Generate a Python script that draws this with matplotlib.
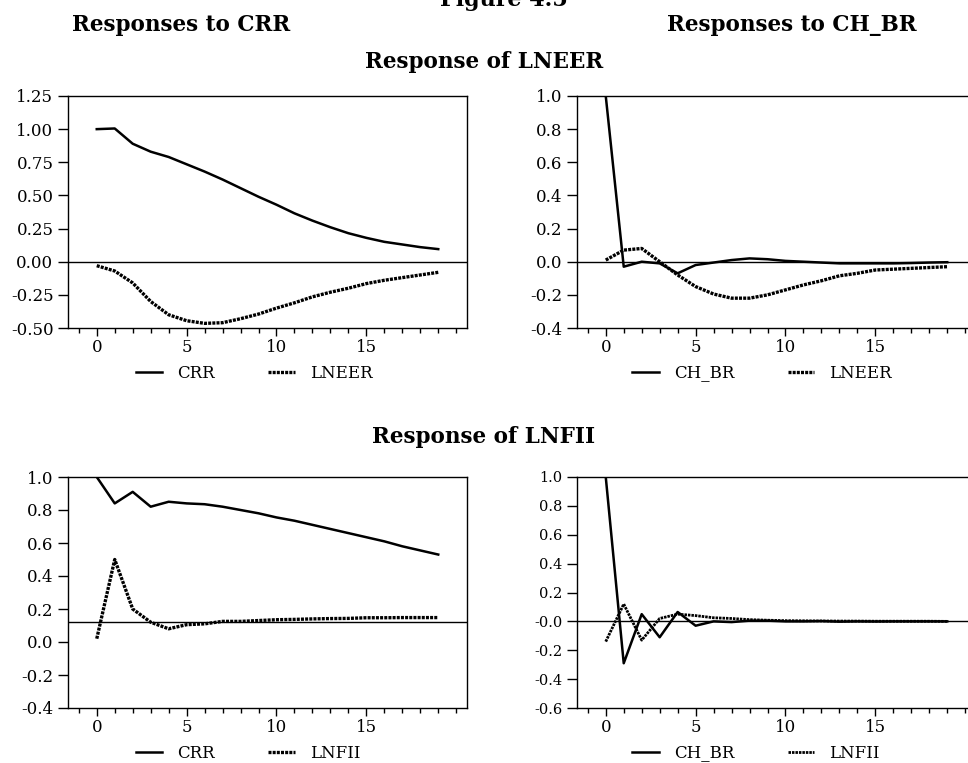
import numpy as np
import matplotlib
matplotlib.use("Agg")
import matplotlib.pyplot as plt
from matplotlib.ticker import MultipleLocator, FixedLocator, FixedFormatter

plt.rcParams["font.family"] = ["DejaVu Serif"]

periods = np.arange(20)

# Response of LNEER to CRR / CH_BR shocks
crr_crr = [1.00, 1.005, 0.89, 0.83, 0.79, 0.735, 0.68, 0.62, 0.555, 0.49,
           0.43, 0.365, 0.31, 0.26, 0.215, 0.18, 0.15, 0.13, 0.11, 0.095]
crr_lneer = [-0.03, -0.07, -0.16, -0.30, -0.40, -0.445, -0.465, -0.46, -0.43, -0.395,
             -0.35, -0.31, -0.265, -0.23, -0.20, -0.165, -0.14, -0.12, -0.10, -0.08]
chbr_chbr = [1.00, -0.03, 0.0, -0.01, -0.07, -0.02, -0.005, 0.01, 0.02, 0.015,
             0.005, 0.0, -0.005, -0.01, -0.01, -0.01, -0.01, -0.008, -0.005, -0.003]
chbr_lneer = [0.01, 0.07, 0.08, 0.0, -0.08, -0.15, -0.195, -0.22, -0.22, -0.20,
              -0.17, -0.14, -0.115, -0.085, -0.07, -0.05, -0.045, -0.04, -0.035, -0.03]

# Response of LNFII
crr_crr2 = [1.00, 0.84, 0.91, 0.82, 0.85, 0.84, 0.835, 0.82, 0.80, 0.78,
            0.755, 0.735, 0.71, 0.685, 0.66, 0.635, 0.61, 0.58, 0.555, 0.53]
crr_lnfii = [0.02, 0.50, 0.20, 0.12, 0.08, 0.105, 0.11, 0.125, 0.125, 0.13,
             0.135, 0.137, 0.14, 0.142, 0.143, 0.147, 0.147, 0.148, 0.148, 0.148]
chbr_chbr2 = [1.00, -0.29, 0.05, -0.11, 0.065, -0.03, 0.0, -0.005, 0.005, 0.005,
              0.0, 0.0, 0.002, -0.002, 0.0, -0.001, 0.0, 0.0, 0.0, 0.0]
chbr_lnfii = [-0.14, 0.12, -0.13, 0.02, 0.05, 0.04, 0.025, 0.02, 0.012, 0.008,
              0.005, 0.004, 0.003, 0.002, 0.002, 0.001, 0.001, 0.001, 0.001, 0.0]

ref_lnfii_crr = 0.12

yt_tl = [1.25, 1.00, 0.75, 0.50, 0.25, 0.00, -0.25, -0.50]
yl_tl = ["1.25", "1.00", "0.75", "0.50", "0.25", "0.00", "-0.25", "-0.50"]
yt_tr = [1.0, 0.8, 0.6, 0.4, 0.2, 0.0, -0.2, -0.4]
yl_tr = ["1.0", "0.8", "0.6", "0.4", "0.2", "0.0", "-0.2", "-0.4"]
yt_bl = [1.0, 0.8, 0.6, 0.4, 0.2, 0.0, -0.2, -0.4]
yl_bl = ["1.0", "0.8", "0.6", "0.4", "0.2", "0.0", "-0.2", "-0.4"]
yt_br = [1.0, 0.8, 0.6, 0.4, 0.2, 0.0, -0.2, -0.4, -0.6]
yl_br = ["1.0", "0.8", "0.6", "0.4", "0.2", "-0.0", "-0.2", "-0.4", "-0.6"]

W, H = 968, 763
fig = plt.figure(figsize=(W / 100, H / 100), dpi=100)

DOT = (0, (0.9, 0.35))


def make_axes(left, top, bottom, right):
    return fig.add_axes([left / W, 1 - bottom / H, (right - left) / W, (bottom - top) / H])


def style(ax, yt, yl, ylim, zero, ysize):
    ax.set_xlim(-1.6, 20.6)
    ax.set_ylim(*ylim)
    ax.xaxis.set_major_locator(FixedLocator([0, 5, 10, 15]))
    ax.xaxis.set_minor_locator(MultipleLocator(1))
    ax.yaxis.set_major_locator(FixedLocator(yt))
    ax.yaxis.set_major_formatter(FixedFormatter(yl))
    ax.tick_params(axis="x", which="major", direction="out", length=6, width=1,
                   labelsize=12, pad=2)
    ax.tick_params(axis="x", which="minor", direction="out", length=3.5, width=1)
    ax.tick_params(axis="y", which="major", direction="out", length=7.5, width=1,
                   labelsize=ysize, pad=3)
    for s in ax.spines.values():
        s.set_linewidth(1.0)
    ax.axhline(zero, color="black", lw=1.0, zorder=1)


def add_legend(ax, x, y):
    ax.legend(loc="center", bbox_to_anchor=(x / W, 1 - y / H),
              bbox_transform=fig.transFigure, ncol=2, frameon=False,
              fontsize=12, handlelength=1.6, columnspacing=3.2, handletextpad=0.9)


# top left: responses of LNEER to CRR
ax = make_axes(68, 96, 328, 467)
ax.plot(periods, crr_crr, color="black", lw=1.8, label="CRR")
ax.plot(periods, crr_lneer, color="black", lw=2.4, linestyle=DOT, label="LNEER")
style(ax, yt_tl, yl_tl, (-0.5, 1.25), 0.0, 12)
add_legend(ax, 254, 373)

# top right: responses of LNEER to CH_BR
ax = make_axes(577, 96, 328, 976)
ax.plot(periods, chbr_chbr, color="black", lw=1.8, label="CH_BR")
ax.plot(periods, chbr_lneer, color="black", lw=2.4, linestyle=DOT, label="LNEER")
style(ax, yt_tr, yl_tr, (-0.4, 1.0), 0.0, 12)
add_legend(ax, 762, 373)

# bottom left: responses of LNFII to CRR
ax = make_axes(68, 477, 708, 467)
ax.plot(periods, crr_crr2, color="black", lw=1.8, label="CRR")
ax.plot(periods, crr_lnfii, color="black", lw=2.4, linestyle=DOT, label="LNFII")
style(ax, yt_bl, yl_bl, (-0.4, 1.0), ref_lnfii_crr, 12)
add_legend(ax, 248, 753)

# bottom right: responses of LNFII to CH_BR
ax = make_axes(577, 477, 708, 976)
ax.plot(periods, chbr_chbr2, color="black", lw=1.8, label="CH_BR")
ax.plot(periods, chbr_lnfii, color="black", lw=2.0, linestyle=DOT, label="LNFII")
style(ax, yt_br, yl_br, (-0.6, 1.0), 0.0, 10.5)
add_legend(ax, 756, 753)

# headings
bold = dict(fontweight="bold", ha="center", va="center", fontsize=15.5)
fig.text(504 / W, 1 - 6 / H, "Figure 4.5", fontweight="bold", ha="center",
         va="baseline", fontsize=16)
fig.text(181 / W, 1 - 25 / H, "Responses to CRR", **bold)
fig.text(792 / W, 1 - 25 / H, "Responses to CH_BR", **bold)
fig.text(484 / W, 1 - 62 / H, "Response of LNEER", **bold)
fig.text(484 / W, 1 - 437 / H, "Response of LNFII", **bold)

fig.savefig("out.png", dpi=100)
